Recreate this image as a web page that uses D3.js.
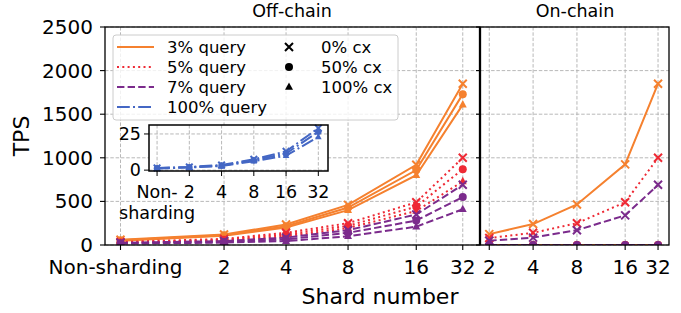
<!DOCTYPE html>
<html>
<head>
<meta charset="utf-8">
<script src="https://cdn.jsdelivr.net/npm/d3@7"></script>
<style>
  body { margin: 0; background: #fff; }
  text { font-family: "DejaVu Sans", sans-serif; fill: #000; }
</style>
</head>
<body>
<script>
// chart data
var shardLabels = ['Non-sharding', '2', '4', '8', '16', '32'];
var shardPos = [-1.67, 0, 1, 2, 3.1, 3.85];   // x position of each shard count on the axis
var queryNames = ['3% query', '5% query', '7% query', '100% query'];
var cxNames = ['0% cx', '50% cx', '100% cx'];
var yTicks = [0, 500, 1000, 1500, 2000, 2500];
var insetTicks = [0, 25];

// off-chain TPS, one row per cx level (0%, 50%, 100%)
var off3 = [[60, 120, 235, 460, 920, 1850], [55, 112, 215, 430, 860, 1730], [50, 105, 200, 400, 800, 1610]];
var off5 = [[35, 70, 140, 250, 490, 1000], [30, 60, 120, 220, 440, 870], [25, 50, 100, 195, 390, 730]];
var off7 = [[25, 45, 85, 170, 350, 690], [20, 35, 65, 140, 280, 550], [15, 28, 45, 100, 210, 410]];
var off100 = [[1.5, 2.2, 3.5, 7.5, 13, 29], [1.3, 2.0, 3.1, 6.8, 11.5, 26.5], [1.1, 1.8, 2.8, 6.2, 10, 23]];

// on-chain TPS (shards 2..32)
var on3 = [[125, 240, 465, 925, 1850], [0, 0, 0, 0, 0], [0, 0, 0, 0, 0]];
var on5 = [[80, 140, 250, 490, 1000], [0, 0, 0, 0, 0], [0, 0, 0, 0, 0]];
var on7 = [[50, 85, 170, 340, 690], [0, 0, 0, 0, 0], [0, 0, 0, 0, 0]];

var styles = [
  {color: '#f5812f', dash: null},
  {color: '#ee2a35', dash: '2,3.3'},
  {color: '#7b2b8c', dash: '7.4,3.2'},
  {color: '#4467c4', dash: '12.8,3.2,2,3.2'}
];
var markerTypes = ['x', 'o', '^'];

var W = 681, H = 313;
var svg = d3.select('body').append('svg').attr('width', W).attr('height', H);

var y = d3.scaleLinear().domain([0, 2500]).range([245, 27]);
var xL = d3.scaleLinear().domain([-1.92, 4.12]).range([105, 479.5]);
var xR = d3.scaleLinear().domain([-0.2, 4.1]).range([480.5, 669]);

var defs = svg.append('defs');
defs.append('clipPath').attr('id', 'clipL').append('rect')
  .attr('x', 105).attr('y', 27).attr('width', 374.5).attr('height', 218);
defs.append('clipPath').attr('id', 'clipR').append('rect')
  .attr('x', 480.5).attr('y', 27).attr('width', 188.5).attr('height', 218);

function marker(g, type, cx, cy, s, color) {
  if (type === 'x') {
    g.append('path').attr('d', 'M' + (cx - s) + ',' + (cy - s) + 'L' + (cx + s) + ',' + (cy + s) +
        'M' + (cx - s) + ',' + (cy + s) + 'L' + (cx + s) + ',' + (cy - s))
      .attr('stroke', color).attr('stroke-width', 2).attr('fill', 'none');
  } else if (type === 'o') {
    g.append('circle').attr('cx', cx).attr('cy', cy).attr('r', s).attr('fill', color);
  } else {
    g.append('path').attr('d', 'M' + cx + ',' + (cy - s * 1.15) + 'L' + (cx + s) + ',' + (cy + s * 0.7) +
        'L' + (cx - s) + ',' + (cy + s * 0.7) + 'Z').attr('fill', color);
  }
}

function grid(g, xs, xScale, x0, x1, yScale, ys, y0, y1) {
  xs.forEach(function(v) {
    g.append('line').attr('x1', xScale(v)).attr('x2', xScale(v)).attr('y1', y0).attr('y2', y1)
      .attr('stroke', '#b0b0b0').attr('stroke-width', 0.9).attr('stroke-dasharray', '3.5,1.8');
  });
  ys.forEach(function(v) {
    g.append('line').attr('x1', x0).attr('x2', x1).attr('y1', yScale(v)).attr('y2', yScale(v))
      .attr('stroke', '#b0b0b0').attr('stroke-width', 0.9).attr('stroke-dasharray', '3.5,1.8');
  });
}

function drawSeries(g, xs, xScale, yScale, rows, st, ms) {
  rows.forEach(function(vals, k) {
    var pts = vals.map(function(v, i) { return [xScale(xs[i]), yScale(v)]; });
    g.append('path').attr('d', d3.line()(pts)).attr('fill', 'none')
      .attr('stroke', st.color).attr('stroke-width', 2)
      .attr('stroke-dasharray', st.dash);
    pts.forEach(function(p) { marker(g, markerTypes[k], p[0], p[1], ms, st.color); });
  });
}

// ---- left panel: off-chain
grid(svg.append('g'), shardPos, xL, 105, 479.5, y, yTicks, 27, 245);
var gL = svg.append('g').attr('clip-path', 'url(#clipL)');
[off3, off5, off7].forEach(function(rows, s) { drawSeries(gL, shardPos, xL, y, rows, styles[s], 4); });

// ---- right panel: on-chain
var posR = shardPos.slice(1);
grid(svg.append('g'), posR, xR, 480.5, 669, y, yTicks, 27, 245);
var gR = svg.append('g').attr('clip-path', 'url(#clipR)');
[on3, on5, on7].forEach(function(rows, s) { drawSeries(gR, posR, xR, y, rows, styles[s], 4); });

// spines and ticks
svg.append('rect').attr('x', 105).attr('y', 27).attr('width', 374.5).attr('height', 218)
  .attr('fill', 'none').attr('stroke', '#000').attr('stroke-width', 1.3);
svg.append('rect').attr('x', 480.5).attr('y', 27).attr('width', 188.5).attr('height', 218)
  .attr('fill', 'none').attr('stroke', '#000').attr('stroke-width', 1.3);

var axL = svg.append('g');
yTicks.forEach(function(v) {
  axL.append('line').attr('x1', 100).attr('x2', 105).attr('y1', y(v)).attr('y2', y(v)).attr('stroke', '#000').attr('stroke-width', 1.1);
  axL.append('text').attr('x', 93).attr('y', y(v) + 7).attr('text-anchor', 'end').attr('font-size', 20).text(v);
  axL.append('line').attr('x1', 476).attr('x2', 480.5).attr('y1', y(v)).attr('y2', y(v)).attr('stroke', '#000').attr('stroke-width', 1.1);
});
shardPos.forEach(function(v, i) {
  axL.append('line').attr('x1', xL(v)).attr('x2', xL(v)).attr('y1', 245).attr('y2', 250).attr('stroke', '#000').attr('stroke-width', 1.1);
  axL.append('text').attr('x', xL(v) - (i === 0 ? 5 : 0)).attr('y', 274).attr('text-anchor', 'middle').attr('font-size', 20).text(shardLabels[i]);
});
posR.forEach(function(v, i) {
  axL.append('line').attr('x1', xR(v)).attr('x2', xR(v)).attr('y1', 245).attr('y2', 250).attr('stroke', '#000').attr('stroke-width', 1.1);
  axL.append('text').attr('x', xR(v)).attr('y', 274).attr('text-anchor', 'middle').attr('font-size', 20).text(shardLabels[i + 1]);
});

svg.append('text').attr('x', 292).attr('y', 17).attr('text-anchor', 'middle').attr('font-size', 17.5).text('Off-chain');
svg.append('text').attr('x', 575).attr('y', 17).attr('text-anchor', 'middle').attr('font-size', 17.5).text('On-chain');
svg.append('text').attr('x', 380).attr('y', 304).attr('text-anchor', 'middle').attr('font-size', 22).text('Shard number');
svg.append('text').attr('transform', 'translate(29,136) rotate(-90)').attr('text-anchor', 'middle').attr('font-size', 22).text('TPS');

// ---- inset: 100% query
var idx = d3.range(shardLabels.length);
var xi = d3.scaleLinear().domain([-0.25, 5.3]).range([149, 328]);
var yi = d3.scaleLinear().domain([-0.6, 31.2]).range([171, 125]);
var gi = svg.append('g');
gi.append('rect').attr('x', 149).attr('y', 125).attr('width', 179).attr('height', 46).attr('fill', '#fff');
grid(gi, idx, xi, 149, 328, yi, insetTicks, 125, 171);
drawSeries(gi, idx, xi, yi, off100, styles[3], 3.3);
gi.append('rect').attr('x', 149).attr('y', 125).attr('width', 179).attr('height', 46)
  .attr('fill', 'none').attr('stroke', '#000').attr('stroke-width', 1.5);
insetTicks.forEach(function(v) {
  gi.append('line').attr('x1', 144).attr('x2', 149).attr('y1', yi(v)).attr('y2', yi(v)).attr('stroke', '#000');
  gi.append('text').attr('x', 141).attr('y', yi(v) + 6).attr('text-anchor', 'end').attr('font-size', 17.5).text(v);
});
idx.forEach(function(i) {
  gi.append('line').attr('x1', xi(i)).attr('x2', xi(i)).attr('y1', 171).attr('y2', 176).attr('stroke', '#000');
  var t = gi.append('text').attr('x', xi(i)).attr('y', 198).attr('text-anchor', 'middle').attr('font-size', 17.5);
  if (i === 0) {
    t.append('tspan').attr('x', xi(i)).text('Non-');
    t.append('tspan').attr('x', xi(i)).attr('dy', 21).text('sharding');
  } else {
    t.text(shardLabels[i]);
  }
});

// ---- legend
var lg = svg.append('g');
lg.append('rect').attr('x', 113).attr('y', 35).attr('width', 285).attr('height', 85).attr('rx', 3)
  .attr('fill', '#fff').attr('fill-opacity', 0.8).attr('stroke', '#cccccc');
queryNames.forEach(function(name, i) {
  var ry = 47 + i * 20;
  lg.append('line').attr('x1', 117).attr('x2', 154).attr('y1', ry).attr('y2', ry)
    .attr('stroke', styles[i].color).attr('stroke-width', 2).attr('stroke-dasharray', styles[i].dash);
  lg.append('text').attr('x', 167).attr('y', ry + 6).attr('font-size', 16.5).text(name);
});
cxNames.forEach(function(name, i) {
  var ry = 47 + i * 20;
  marker(lg, markerTypes[i], 289, ry, 4, '#000');
  lg.append('text').attr('x', 321).attr('y', ry + 6).attr('font-size', 16.5).text(name);
});
</script>
</body>
</html>
